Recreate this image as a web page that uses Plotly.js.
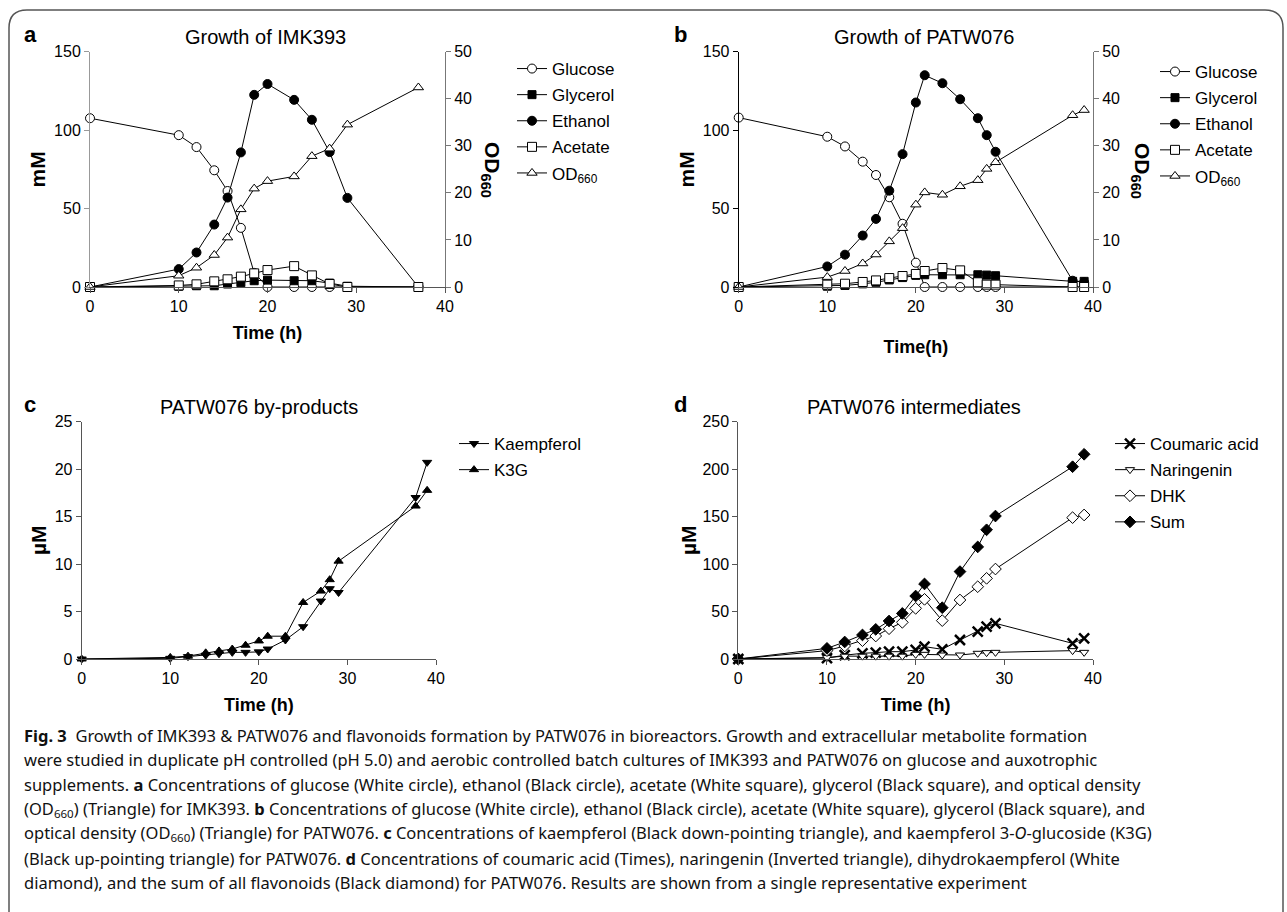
<!DOCTYPE html>
<html><head><meta charset="utf-8">
<script src="https://cdn.plot.ly/plotly-3.0.1.min.js"></script>
<style>html,body{margin:0;padding:0;background:#fff}#chart{width:1287px;height:912px}</style>
</head><body><div id="chart"></div>
<script>
// ---------- DATA ----------
// Panel a: Growth of IMK393
const timeA     = [0, 10, 12, 14, 15.5, 17, 18.5, 20, 23, 25, 27, 29, 37];
const glucoseA  = [107.6, 96.8, 89.2, 74.4, 61.2, 37.7, 9, 0, 0, 0, 0, 0, 0];
const glycerolA = [0, 0.5, 0.8, 0.8, 1.9, 2.8, 4, 4.4, 4, 4, 2.5, 0.5, 0];
const ethanolA  = [0, 11.4, 22, 39.8, 57, 85.8, 122.5, 129.4, 119.3, 106.6, 86, 56.8, 0];
const acetateA  = [0, 1, 1.7, 3.6, 4.9, 6.6, 8.7, 10.8, 13.3, 7.4, 1.9, 0, 0];
const odA       = [0, 2.4, 4.1, 6.8, 10.5, 16.5, 20.9, 22.5, 23.5, 27.8, 29.4, 34.5, 42.4];

// Panel b: Growth of PATW076
const timeB     = [0, 10, 12, 14, 15.5, 17, 18.5, 20, 21, 23, 25, 27, 28, 29, 37.7, 39];
const glucoseB  = [108, 95.8, 89.6, 79.9, 71.4, 57.2, 40.3, 15.5, 0, 0, 0, 0, 0, 0, 0, 0];
const glycerolB = [0, 0.5, 1, 2, 3, 4.5, 6, 7.4, 7.8, 7.8, 7.8, 7.8, 7.6, 7.2, 3.6, 3.6];
const ethanolB  = [0, 13.1, 20.6, 32.8, 43.4, 61.4, 84.7, 117.6, 135, 129.9, 119.7, 107.6, 96.8, 86.2, 4, 3];
const acetateB  = [0, 1.5, 2.1, 3.2, 4.2, 5.7, 7, 8.3, 10.2, 12.1, 10.6, 3, 1.5, 1.5, 0, 0];
const odB       = [0, 2.1, 3.4, 5.0, 6.9, 9.7, 12.5, 17.5, 20.1, 19.6, 21.4, 22.7, 25.1, 26.5, 36.5, 37.6];

// Panel c: PATW076 by-products (µM)
const timeC       = [0, 10, 12, 14, 15.5, 17, 18.5, 20, 21, 23, 25, 27, 28, 29, 37.7, 39];
const kaempferolC = [0, 0.07, 0.25, 0.4, 0.55, 0.7, 0.7, 0.75, 1.05, 2.0, 3.4, 6.1, 7.4, 7.0, 17.0, 20.7];
const k3gC        = [0, 0.17, 0.3, 0.65, 0.85, 1.05, 1.45, 1.9, 2.4, 2.4, 5.95, 7.15, 8.35, 10.3, 16.1, 17.75];

// Panel d: PATW076 intermediates (µM)
const timeD       = [0, 10, 12, 14, 15.5, 17, 18.5, 20, 21, 23, 25, 27, 28, 29, 37.7, 39];
const coumaricD   = [0, 1, 4, 6, 6.7, 7.7, 7.7, 9.5, 13, 10.2, 20, 28.8, 34, 37.5, 16.5, 21.8];
const naringeninD = [0, 1.5, 3, 3, 3, 3, 3, 4.9, 4.9, 4.2, 4.2, 6, 6.7, 7, 8.8, 7];
const dhkD        = [0, 8.8, 13.7, 19.3, 24.2, 31.9, 38.6, 53.3, 62.8, 40.4, 62.1, 76.1, 84.9, 94.7, 148.8, 151.6];
const sumD        = [0, 11.2, 17.9, 25.3, 31.2, 40, 48, 66.3, 79, 54, 92, 118, 136, 150.5, 202.4, 215.5];

const panelTitles = ['Growth of IMK393', 'Growth of PATW076', 'PATW076 by-products', 'PATW076 intermediates'];
const panelLetters = ['a', 'b', 'c', 'd'];
const captionLines = [
  '<b>Fig. 3</b>  Growth of IMK393 &amp; PATW076 and flavonoids formation by PATW076 in bioreactors. Growth and extracellular metabolite formation',
  'were studied in duplicate pH controlled (pH 5.0) and aerobic controlled batch cultures of IMK393 and PATW076 on glucose and auxotrophic',
  'supplements. <b>a</b> Concentrations of glucose (White circle), ethanol (Black circle), acetate (White square), glycerol (Black square), and optical density',
  '(OD<sub>660</sub>) (Triangle) for IMK393. <b>b</b> Concentrations of glucose (White circle), ethanol (Black circle), acetate (White square), glycerol (Black square), and',
  'optical density (OD<sub>660</sub>) (Triangle) for PATW076. <b>c</b> Concentrations of kaempferol (Black down-pointing triangle), and kaempferol 3-<i>O</i>-glucoside (K3G)',
  '(Black up-pointing triangle) for PATW076. <b>d</b> Concentrations of coumaric acid (Times), naringenin (Inverted triangle), dihydrokaempferol (White',
  'diamond), and the sum of all flavonoids (Black diamond) for PATW076. Results are shown from a single representative experiment'
];

// ---------- HELPERS ----------
const W = 1287, H = 912;
const px = x => x / W, py = y => 1 - y / H;
const FONT = 'Liberation Sans, Arial, sans-serif';
const openM = (s, sz) => ({symbol: s, size: sz, color: '#fff', line: {color: '#000', width: 1}});
const fillM = (s, sz) => ({symbol: s, size: sz, color: '#000', line: {color: '#000', width: 1}});
const LINE = {color: '#000', width: 1};

function tr(name, x, y, xa, ya, marker, legend, rank) {
  return {type: 'scatter', mode: 'lines+markers', name, x, y, xaxis: xa, yaxis: ya,
    marker, line: LINE, legend, legendrank: rank, legendgroup: legend + rank, cliponaxis: false};
}

const traces = [
  tr('Glucose', timeA, glucoseA, 'x', 'y', openM('circle', 9), 'legend', 1),
  tr('Glycerol', timeA, glycerolA, 'x', 'y', fillM('square', 8), 'legend', 2),
  tr('Ethanol', timeA, ethanolA, 'x', 'y', fillM('circle', 9), 'legend', 3),
  tr('Acetate', timeA, acetateA, 'x', 'y', openM('square', 9), 'legend', 4),
  tr('OD<sub>660</sub>', timeA, odA, 'x', 'y2', openM('triangle-up', 9), 'legend', 5),

  tr('Glucose', timeB, glucoseB, 'x2', 'y3', openM('circle', 9), 'legend2', 1),
  tr('Glycerol', timeB, glycerolB, 'x2', 'y3', fillM('square', 8), 'legend2', 2),
  tr('Ethanol', timeB, ethanolB, 'x2', 'y3', fillM('circle', 9), 'legend2', 3),
  tr('Acetate', timeB, acetateB, 'x2', 'y3', openM('square', 9), 'legend2', 4),
  tr('OD<sub>660</sub>', timeB, odB, 'x2', 'y4', openM('triangle-up', 9), 'legend2', 5),

  tr('Kaempferol', timeC, kaempferolC, 'x3', 'y5', fillM('triangle-down', 8), 'legend3', 1),
  tr('K3G', timeC, k3gC, 'x3', 'y5', fillM('triangle-up', 8), 'legend3', 2),

  tr('Coumaric acid', timeD, coumaricD, 'x4', 'y6', {symbol: 'x-thin', size: 10, color: '#000', line: {color: '#000', width: 2.5}}, 'legend4', 1),
  tr('Naringenin', timeD, naringeninD, 'x4', 'y6', openM('triangle-down', 8), 'legend4', 2),
  tr('DHK', timeD, dhkD, 'x4', 'y6', openM('diamond', 9), 'legend4', 3),
  tr('Sum', timeD, sumD, 'x4', 'y6', fillM('diamond', 9), 'legend4', 4)
];

const axBase = {showline: true, linecolor: '#555', linewidth: 1, ticks: 'outside', ticklen: 5,
  tickcolor: '#555', tickwidth: 1, showgrid: false, zeroline: false, fixedrange: true,
  tickfont: {family: FONT, size: 16, color: '#000'}};
const xTitle = (t, so) => ({text: '<b>' + t + '</b>', font: {family: FONT, size: 18, color: '#000'}, standoff: so});
const yTitle = (t, so) => ({text: '<b>' + t + '</b>', font: {family: FONT, size: 21, color: '#000'}, standoff: so});

const dAB = [py(287), py(51.7)], dCD = [py(659), py(421.5)];
const legBase = {xanchor: 'left', yanchor: 'top', font: {family: FONT, size: 17, color: '#000'},
  bgcolor: 'rgba(0,0,0,0)', tracegroupgap: 1, itemwidth: 30};

const annotations = [];
const ann = (text, x, y, size, opts) => annotations.push(Object.assign({text, x: px(x), y: py(y),
  xref: 'paper', yref: 'paper', xanchor: 'center', yanchor: 'middle', showarrow: false,
  font: {family: FONT, size, color: '#000'}}, opts || {}));
[[265, 37], [924, 37], [259, 407], [914, 407]].forEach((p, i) => ann(panelTitles[i], p[0], p[1], 20));
[[30, 35], [680, 35], [30, 405], [680, 405]].forEach((p, i) => ann('<b>' + panelLetters[i] + '</b>', p[0], p[1], 22));
ann('<b>OD<sub>660</sub></b>', 491, 170, 21, {textangle: 90});
ann('<b>OD<sub>660</sub></b>', 1141, 171, 21, {textangle: 90});
captionLines.forEach((t, i) => ann(t, 22, 735 + i * 24.6, 16.5,
  {xanchor: 'left', align: 'left', font: {family: 'Noto Sans, Open Sans, sans-serif', size: 16.5, color: '#111'}}));

const r = 18, L = 9, T = 10, R = 1283, B = 930;
const framePath = `M ${px(L)} ${py(B)} L ${px(L)} ${py(T + r)} Q ${px(L)} ${py(T)} ${px(L + r)} ${py(T)} ` +
  `L ${px(R - r)} ${py(T)} Q ${px(R)} ${py(T)} ${px(R)} ${py(T + r)} L ${px(R)} ${py(B)}`;

const layout = {
  width: W, height: H, margin: {l: 0, r: 0, t: 0, b: 0}, paper_bgcolor: '#fff', plot_bgcolor: 'rgba(0,0,0,0)',
  showlegend: true, font: {family: FONT, color: '#000'},
  xaxis:  Object.assign({}, axBase, {domain: [px(90), px(445)], anchor: 'y', range: [0, 40], dtick: 10, title: xTitle('Time (h)', 12)}),
  yaxis:  Object.assign({}, axBase, {domain: dAB, anchor: 'x', range: [0, 150], dtick: 50, linecolor: '#999', tickcolor: '#999', title: yTitle('mM', 2)}),
  yaxis2: Object.assign({}, axBase, {overlaying: 'y', side: 'right', anchor: 'x', range: [0, 50], dtick: 10, linecolor: '#777', tickcolor: '#777'}),
  xaxis2: Object.assign({}, axBase, {domain: [px(738.7), px(1093)], anchor: 'y3', range: [0, 40], dtick: 10, title: xTitle('Time(h)', 26)}),
  yaxis3: Object.assign({}, axBase, {domain: dAB, anchor: 'x2', range: [0, 150], dtick: 50, linecolor: '#000', tickcolor: '#000', title: yTitle('mM', 2)}),
  yaxis4: Object.assign({}, axBase, {overlaying: 'y3', side: 'right', anchor: 'x2', range: [0, 50], dtick: 10, linecolor: '#777', tickcolor: '#777'}),
  xaxis3: Object.assign({}, axBase, {domain: [px(81.7), px(436)], anchor: 'y5', range: [0, 40], dtick: 10, title: xTitle('Time (h)', 12)}),
  yaxis5: Object.assign({}, axBase, {domain: dCD, anchor: 'x3', range: [0, 25], dtick: 5, title: yTitle('µM', 2)}),
  xaxis4: Object.assign({}, axBase, {domain: [px(738.3), px(1093)], anchor: 'y6', range: [0, 40], dtick: 10, title: xTitle('Time (h)', 12)}),
  yaxis6: Object.assign({}, axBase, {domain: dCD, anchor: 'x4', range: [0, 250], dtick: 50, title: yTitle('µM', 0)}),
  legend:  Object.assign({}, legBase, {x: px(512), y: py(51)}),
  legend2: Object.assign({}, legBase, {x: px(1155), y: py(54)}),
  legend3: Object.assign({}, legBase, {x: px(454), y: py(426)}),
  legend4: Object.assign({}, legBase, {x: px(1110), y: py(426)}),
  annotations,
  shapes: [{type: 'path', xref: 'paper', yref: 'paper', path: framePath, line: {color: '#555', width: 1.5}}]
};

Plotly.newPlot('chart', traces, layout, {staticPlot: true, displayModeBar: false});
</script>
</body></html>
